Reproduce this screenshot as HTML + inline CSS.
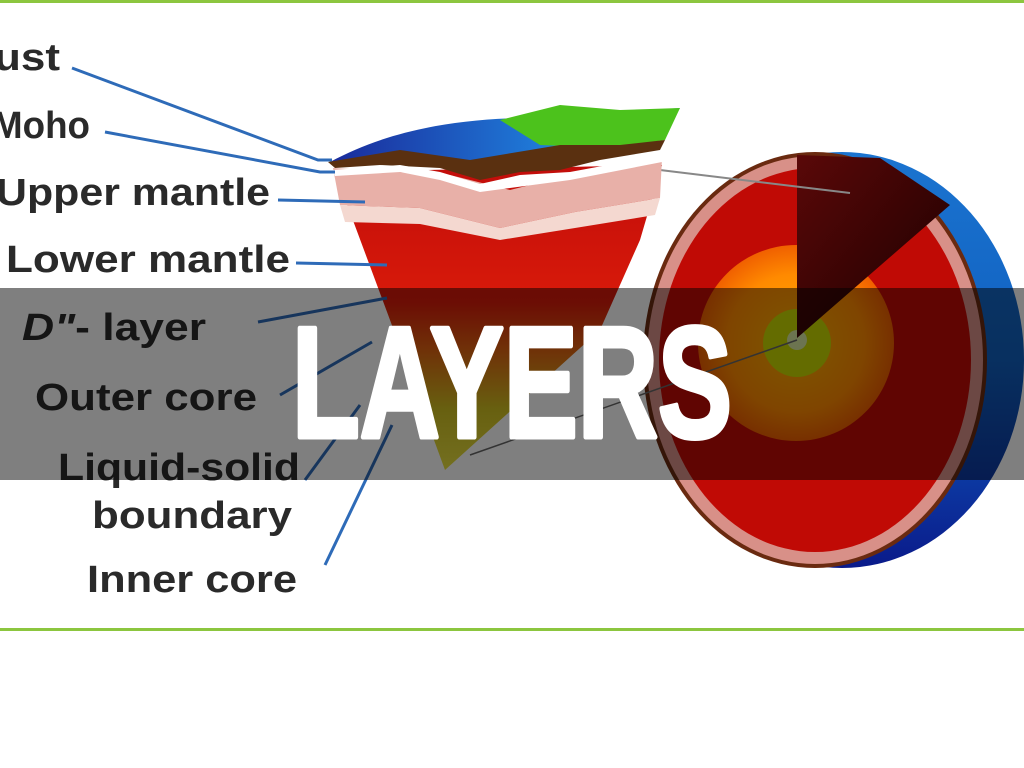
<!DOCTYPE html>
<html><head><meta charset="utf-8"><style>
html,body{margin:0;padding:0;background:#fff;width:1024px;height:768px;overflow:hidden}
svg{display:block}
</style></head><body>
<svg width="1024" height="768" viewBox="0 0 1024 768" xmlns="http://www.w3.org/2000/svg">
<defs>
<linearGradient id="ocean" x1="0" y1="0" x2="1" y2="0"><stop offset="0" stop-color="#1a2a9a"/><stop offset="0.6" stop-color="#1f7ad8"/><stop offset="1" stop-color="#2a9ae0"/></linearGradient>
<linearGradient id="blueback" x1="0" y1="0" x2="0" y2="1"><stop offset="0" stop-color="#1b74d0"/><stop offset="0.5" stop-color="#1060c0"/><stop offset="1" stop-color="#0a1a8a"/></linearGradient>
<linearGradient id="cone" x1="0" y1="0" x2="0" y2="1"><stop offset="0" stop-color="#c20d0a"/><stop offset="0.45" stop-color="#d81a0a"/><stop offset="0.6" stop-color="#e06010"/><stop offset="0.8" stop-color="#d0c020"/><stop offset="1" stop-color="#e8e040"/></linearGradient>
<linearGradient id="wedge" x1="0" y1="0" x2="1" y2="1"><stop offset="0" stop-color="#5a0808"/><stop offset="1" stop-color="#1a0000"/></linearGradient>
<radialGradient id="orange" cx="0.5" cy="0.5" r="0.5"><stop offset="0" stop-color="#ffb000"/><stop offset="0.7" stop-color="#ff8a00"/><stop offset="1" stop-color="#f06000"/></radialGradient>
</defs>

<rect x="0" y="0" width="1024" height="3" fill="#8cc63f"/>
<rect x="0" y="628" width="1024" height="3" fill="#8cc63f"/>

<ellipse cx="842" cy="360" rx="182" ry="208" fill="url(#blueback)"/>
<ellipse cx="815" cy="360" rx="172" ry="208" fill="#6a2a10"/>
<ellipse cx="815" cy="360" rx="168" ry="204" fill="#d89088"/>
<ellipse cx="815" cy="360" rx="156" ry="192" fill="#c00a05"/>
<circle cx="796" cy="343" r="98" fill="url(#orange)"/>
<circle cx="797" cy="343" r="34" fill="#c8d800"/>
<circle cx="797" cy="340" r="10" fill="#d8e8a0"/>
<polygon points="797,338 797,155 880,158 950,205" fill="url(#wedge)"/>
<line x1="660" y1="170" x2="850" y2="193" stroke="#888" stroke-width="2"/>
<line x1="470" y1="455" x2="797" y2="340" stroke="#666" stroke-width="1.5"/>

<polygon points="335,172 662,165 640,240 600,330 445,470 390,320" fill="url(#cone)"/>
<polygon points="333,168 450,175 510,190 570,175 662,158 660,198 575,212 500,228 420,208 340,205" fill="#e8b0a8"/>
<polygon points="340,205 420,208 500,228 575,212 660,198 655,215 575,228 500,240 420,224 345,222" fill="#f4d8d0"/>
<path d="M330,162 C380,135 440,120 520,118 L680,108 L660,140 L600,150 L560,160 L470,165 Z" fill="url(#ocean)"/>
<path d="M500,120 L560,105 L620,110 L680,108 L665,140 L610,148 L540,145 Z" fill="#4cc21c"/>
<path d="M328,162 L400,150 L470,160 L530,150 L560,145 L620,145 L665,140 L660,150 L600,160 L560,170 L520,172 L480,180 L440,168 L380,165 L335,168 Z" fill="#5a3010"/>
<path d="M333,170 L400,165 L440,172 L480,184 L520,175 L570,172 L662,155 L662,162 L570,180 L480,192 L440,180 L400,172 L335,176 Z" fill="#fff"/>

<g stroke="#2e6bb8" stroke-width="3" fill="none">
<polyline points="72,68 318,160 332,160"/>
<polyline points="105,132 320,172 335,172"/>
<line x1="278" y1="200" x2="365" y2="202"/>
<line x1="296" y1="263" x2="387" y2="265"/>
<line x1="258" y1="322" x2="387" y2="298"/>
<line x1="280" y1="395" x2="372" y2="342"/>
<line x1="305" y1="480" x2="360" y2="405"/>
<line x1="325" y1="565" x2="392" y2="425"/>
</g>

<g font-family="Liberation Sans, sans-serif" font-weight="bold" font-size="38" fill="#2a2a2a">
<text x="-6" y="70" textLength="66" lengthAdjust="spacingAndGlyphs">ust</text>
<text x="-8" y="138" textLength="98" lengthAdjust="spacingAndGlyphs">Moho</text>
<text x="-4" y="205" textLength="274" lengthAdjust="spacingAndGlyphs">Upper mantle</text>
<text x="6" y="272" textLength="284" lengthAdjust="spacingAndGlyphs">Lower mantle</text>
<text x="22" y="340" textLength="184" lengthAdjust="spacingAndGlyphs"><tspan font-style="italic">D"</tspan>- layer</text>
<text x="35" y="410" textLength="222" lengthAdjust="spacingAndGlyphs">Outer core</text>
<text x="58" y="480" textLength="242" lengthAdjust="spacingAndGlyphs">Liquid-solid</text>
<text x="92" y="528" textLength="200" lengthAdjust="spacingAndGlyphs">boundary</text>
<text x="87" y="592" textLength="210" lengthAdjust="spacingAndGlyphs">Inner core</text>
</g>

<rect x="0" y="288" width="1024" height="192" fill="#000" fill-opacity="0.5"/>
<text x="292" y="437" font-family="Liberation Sans, sans-serif" font-weight="bold" font-size="158" fill="#fff" stroke="#fff" stroke-width="5" stroke-linejoin="round" textLength="440" lengthAdjust="spacingAndGlyphs">LAYERS</text>
</svg>
</body></html>
